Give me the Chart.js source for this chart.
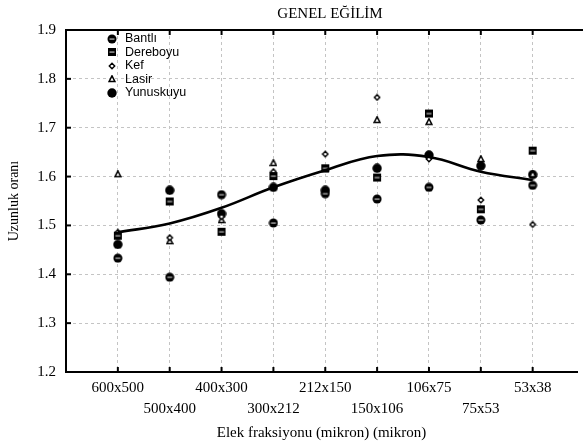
<!DOCTYPE html>
<html><head><meta charset="utf-8">
<script src="https://cdn.jsdelivr.net/npm/chart.js@4.4.1/dist/chart.umd.min.js"></script>
<style>html,body{margin:0;padding:0;background:#fff}#wrap{width:583px;height:444px;position:relative}</style>
</head><body><div id="wrap"><canvas id="c" width="583" height="444"></canvas></div>
<script>
const chartTitle = 'GENEL EĞİLİM';
const xTitle = 'Elek fraksiyonu (mikron) (mikron)';
const yTitle = 'Uzunluk oranı';
const categories = ['600x500','500x400','400x300','300x212','212x150','150x106','106x75','75x53','53x38'];
const yTicks = [1.2, 1.3, 1.4, 1.5, 1.6, 1.7, 1.8, 1.9];
const seriesNames = ['Bantlı','Dereboyu','Kef','Lasir','Yunuskuyu'];
const bantli    = [1.433, 1.394, 1.563, 1.505, 1.565, 1.554, 1.578, 1.511, 1.582];
const dereboyu  = [1.479, 1.549, 1.487, 1.601, 1.617, 1.598, 1.729, 1.533, 1.653];
const kef       = [1.486, 1.475, 1.518, 1.610, 1.646, 1.762, 1.636, 1.552, 1.502];
const lasir     = [1.605, 1.468, 1.511, 1.628, 1.615, 1.716, 1.712, 1.636, 1.605];
const yunuskuyu = [1.461, 1.572, 1.524, 1.578, 1.572, 1.617, 1.644, 1.622, 1.604];
const trend     = [1.486, 1.504, 1.536, 1.578, 1.613, 1.642, 1.640, 1.610, 1.593];

function mk(size, draw){
  const c = document.createElement('canvas');
  c.width = size; c.height = size;
  const g = c.getContext('2d');
  draw(g, size/2);
  return c;
}
const mBantli = mk(10, (g,h)=>{g.fillStyle='#000';g.beginPath();g.arc(h,h,4.5,0,Math.PI*2);g.fill();
  g.fillStyle='#fff';g.fillRect(h-2.5,h-0.4,5,0.9);});
const mDere = mk(10, (g,h)=>{g.fillStyle='#000';g.fillRect(h-4,h-4,8,8);
  g.fillStyle='#fff';g.fillRect(h-2.5,h-0.4,5,0.9);});
const mKef = mk(8, (g,h)=>{g.fillStyle='#fff';g.strokeStyle='#000';g.lineWidth=1.4;g.beginPath();
  g.moveTo(h,h-2.7);g.lineTo(h+2.7,h);g.lineTo(h,h+2.7);g.lineTo(h-2.7,h);g.closePath();g.fill();g.stroke();});
const mLasir = mk(8, (g,h)=>{g.fillStyle='#fff';g.strokeStyle='#000';g.lineWidth=1.5;g.beginPath();
  g.moveTo(h,h-3.2);g.lineTo(h+3,h+2.6);g.lineTo(h-3,h+2.6);g.closePath();g.fill();g.stroke();});
const mYunus = mk(10, (g,h)=>{g.fillStyle='#000';g.beginPath();g.arc(h,h,4.7,0,Math.PI*2);g.fill();});
const markers = [mBantli, mDere, mKef, mLasir, mYunus];
const seriesValues = [bantli, dereboyu, kef, lasir, yunuskuyu];

const datasets = seriesNames.map((n,i)=>({
  type:'scatter', label:n,
  data: seriesValues[i].map((v,j)=>({x:j+1,y:v})),
  pointStyle: markers[i], pointRadius:5, order: 2
}));
datasets.push({
  type:'line', label:'trend',
  data: trend.map((v,j)=>({x:j+1,y:v})),
  borderColor:'#000', borderWidth:2.6, pointRadius:0, tension:0.4, fill:false, order:1
});

const SERIF = '"Liberation Serif", "Times New Roman", serif';
const SANS = '"Liberation Sans", Arial, sans-serif';

const deco = {
  id:'deco',
  beforeDraw(chart){
    const ctx = chart.ctx; ctx.save(); ctx.fillStyle='#fff'; ctx.fillRect(0,0,chart.width,chart.height); ctx.restore();
  },
  afterDraw(chart){
    const ctx = chart.ctx, a = chart.chartArea, xs = chart.scales.x, ys = chart.scales.y;
    ctx.save();
    ctx.strokeStyle='#000'; ctx.lineWidth=2;
    ctx.beginPath(); ctx.moveTo(a.left-1, a.top); ctx.lineTo(chart.width, a.top); ctx.stroke();
    categories.forEach((c,i)=>{
      const px = xs.getPixelForValue(i+1);
      ctx.beginPath(); ctx.moveTo(px, a.bottom); ctx.lineTo(px, a.bottom-5); ctx.stroke();
      ctx.beginPath(); ctx.moveTo(px, a.top); ctx.lineTo(px, a.top+5); ctx.stroke();
    });
    yTicks.forEach(v=>{
      const py = ys.getPixelForValue(v);
      ctx.beginPath(); ctx.moveTo(a.left, py); ctx.lineTo(a.left+5, py); ctx.stroke();
    });
    ctx.fillStyle='#000';
    ctx.font = '15px ' + SERIF; ctx.textAlign='center'; ctx.textBaseline='middle';
    ctx.fillText(chartTitle, 330, 14);
    ctx.font = '12.5px ' + SANS; ctx.textAlign='left';
    seriesNames.forEach((n,i)=>{
      const y = 38.5 + 13.6*i;
      const m = markers[i];
      ctx.drawImage(m, 112 - m.width/2, Math.round(y - m.height/2));
      ctx.fillText(n, 125, y);
    });
    ctx.restore();
  }
};

new Chart(document.getElementById('c'), {
  data:{datasets},
  options:{
    responsive:false, animation:false,
    layout:{padding:{top:30,left:0,right:0,bottom:0}},
    plugins:{legend:{display:false}, title:{display:false}, tooltip:{enabled:false}},
    scales:{
      x:{type:'linear', min:0, max:9.855,
        afterBuildTicks:(s)=>{ s.ticks = categories.map((c,i)=>({value:i+1})); },
        afterFit:(s)=>{ s.height = 72; },
        ticks:{autoSkip:false, maxRotation:0, minRotation:0, padding:6, color:'#000',
          font:{family:SERIF, size:15, lineHeight:1.4},
          callback:(v)=>{ const i=Math.round(v)-1; return i%2===0 ? categories[i] : ['', categories[i]]; }},
        grid:{color:'#c4c4c4', lineWidth:1, drawTicks:false},
        border:{display:true, color:'#000', width:2, dash:[3,3]},
        title:{display:true, text:xTitle, color:'#000', font:{family:SERIF, size:15}, padding:{top:2,bottom:2}}
      },
      y:{type:'linear', min:1.2, max:1.9,
        afterBuildTicks:(s)=>{ s.ticks = yTicks.map(v=>({value:v})); },
        afterFit:(s)=>{ s.width = 66; },
        ticks:{padding:10, color:'#000', font:{family:SERIF, size:15},
          callback:(v)=>Number(v).toFixed(1)},
        grid:{color:'#c4c4c4', lineWidth:1, drawTicks:false},
        border:{display:true, color:'#000', width:2, dash:[3,3]},
        title:{display:true, text:yTitle, color:'#000', font:{family:SERIF, size:14}, padding:{top:6,bottom:0}}
      }
    }
  },
  plugins:[deco]
});
</script></body></html>
